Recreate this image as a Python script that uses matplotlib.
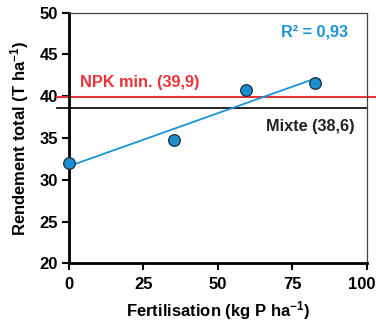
import numpy as np
import matplotlib
matplotlib.use("Agg")
import matplotlib.pyplot as plt
from matplotlib.transforms import ScaledTranslation

# donnees
fertilisation = [0, 35.3, 59.5, 82.6]
rendement = [32.0, 34.7, 40.7, 41.6]
npk_min = 39.9
mixte = 38.6
xticks = [0, 25, 50, 75, 100]
yticks = [20, 25, 30, 35, 40, 45, 50]

bleu = "#1a94d4"
rouge = "#e8343a"

plt.rcParams["font.family"] = ["Liberation Sans", "DejaVu Sans"]
plt.rcParams["font.weight"] = "bold"
plt.rcParams["mathtext.fontset"] = "custom"
plt.rcParams["mathtext.rm"] = "Liberation Sans:bold"
plt.rcParams["mathtext.default"] = "rm"

fig = plt.figure(figsize=(3.76, 3.22), dpi=100)
ax = fig.add_axes([0.1835, 0.1823, 0.7915, 0.7783])

# regression lineaire
a, b = np.polyfit(fertilisation, rendement, 1)
xl = np.array([0, max(fertilisation)])
ax.plot(xl, a * xl + b, color=bleu, lw=1.3, zorder=3)

# lignes horizontales (depassent l'axe a gauche)
ax.plot([-4, 103], [npk_min, npk_min], color=rouge, lw=1.5, clip_on=False, zorder=2)
ax.plot([-4, 100], [mixte, mixte], color="black", lw=1.2, clip_on=False, zorder=2)

ax.scatter(fertilisation, rendement, s=70, color="#1a8fcf", edgecolor="#1d2b3a",
           linewidth=0.9, zorder=5, clip_on=False)

ax.text(93.6, 47.7, "R² = 0,93", color=bleu, fontsize=11.7, ha="right", va="center")
ax.text(3.7, 41.7, "NPK min. (39,9)", color=rouge, fontsize=11.7, ha="left", va="center")
ax.text(96, 36.4, "Mixte (38,6)", color="#222222", fontsize=11.7, ha="right", va="center")

ax.set_xlim(0, 100)
ax.set_ylim(20, 50)
ax.set_xticks(xticks)
ax.set_yticks(yticks)
ax.spines["top"].set_linewidth(0.9)
ax.spines["right"].set_linewidth(0.9)
ax.spines["top"].set_color("#444444")
ax.spines["right"].set_color("#444444")
ax.spines["left"].set_linewidth(2)
ax.spines["bottom"].set_linewidth(2)
ax.tick_params(direction="out", length=5, width=1.5, labelsize=12)
ax.tick_params(axis="x", pad=5)
ax.tick_params(axis="y", pad=3)

# le "100" est un peu decale vers la gauche
lbl = ax.get_xticklabels()[-1]
lbl.set_transform(lbl.get_transform() + ScaledTranslation(-5 / 100, 0, fig.dpi_scale_trans))

ax.set_xlabel("Fertilisation (kg P ha$^{-1}$)", fontsize=12, fontweight="bold", labelpad=5)
ax.set_ylabel("Rendement total (T ha$^{-1}$)", fontsize=12, fontweight="bold", labelpad=6)

fig.savefig("out.png", dpi=100)
